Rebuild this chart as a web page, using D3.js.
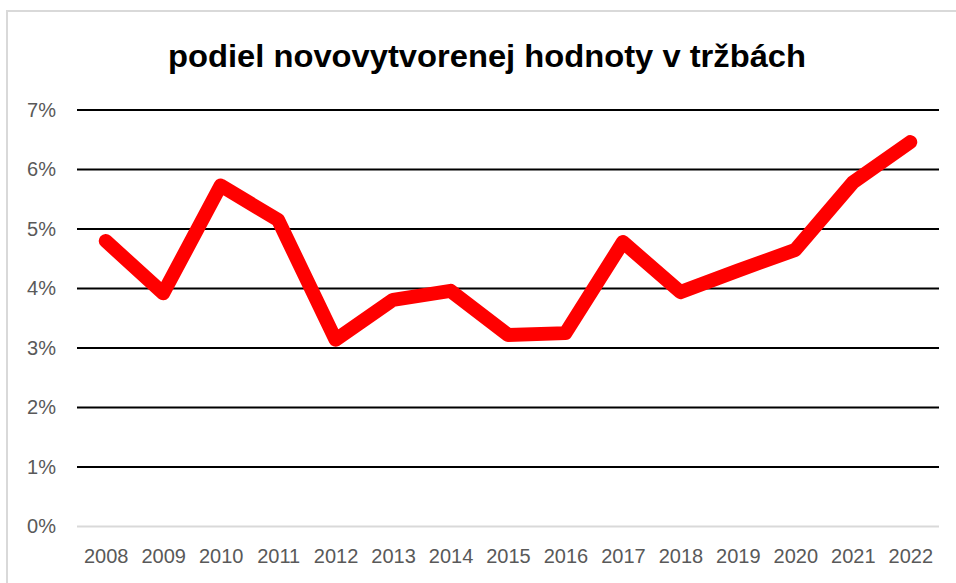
<!DOCTYPE html>
<html>
<head>
<meta charset="utf-8">
<script src="https://cdn.jsdelivr.net/npm/d3@7"></script>
<style>
  html, body { margin: 0; padding: 0; background: #fff; }
  svg { display: block; }
</style>
</head>
<body>
<svg id="chart" width="956" height="583"></svg>
<script>
// Share of newly created value in revenue, 2008–2022
const years = ["2008","2009","2010","2011","2012","2013","2014","2015","2016","2017","2018","2019","2020","2021","2022"];
const shares = [0.0480, 0.0392, 0.0573, 0.0515, 0.0314, 0.0381, 0.0396, 0.0322, 0.0325, 0.0478, 0.0394, 0.0430, 0.0465, 0.0578, 0.0646];
const yTicks = [0, 0.01, 0.02, 0.03, 0.04, 0.05, 0.06, 0.07];
const titleText = "podiel novovytvorenej hodnoty v tržbách";

const svg = d3.select("#chart");
const W = 956, H = 583;
const plot = { left: 77, right: 939, top: 110, bottom: 526.5 };

// chart area frame (light grey, open to the right/bottom of the page)
svg.append("rect")
  .attr("x", 7).attr("y", 11)
  .attr("width", W).attr("height", H)
  .attr("fill", "#fff")
  .attr("stroke", "#d9d9d9")
  .attr("stroke-width", 2);

const x = d3.scalePoint().domain(years).range([plot.left, plot.right]).padding(0.5);
const y = d3.scaleLinear().domain([0, 0.07]).range([plot.bottom, plot.top]);

// horizontal gridlines
const grid = svg.append("g");
grid.selectAll("line").data(yTicks).join("line")
  .attr("x1", plot.left).attr("x2", plot.right)
  .attr("y1", d => y(d)).attr("y2", d => y(d))
  .attr("stroke", d => d === 0 ? "#d9d9d9" : "#000")
  .attr("stroke-width", 2);

// y axis labels
const yAxis = svg.append("g")
  .attr("transform", `translate(${plot.left - 21},0)`)
  .call(d3.axisLeft(y).tickValues(yTicks).tickFormat(d3.format(".0%")).tickSize(0).tickPadding(0));
yAxis.select(".domain").remove();
yAxis.selectAll("text")
  .attr("font-family", "'Liberation Sans', Arial, sans-serif")
  .attr("font-size", 20)
  .attr("fill", "#595959");

// x axis labels
const xAxis = svg.append("g")
  .attr("transform", `translate(0,${plot.bottom + 16})`)
  .call(d3.axisBottom(x).tickSize(0).tickPadding(6));
xAxis.select(".domain").remove();
xAxis.selectAll("text")
  .attr("font-family", "'Liberation Sans', Arial, sans-serif")
  .attr("font-size", 20)
  .attr("fill", "#595959");

// data line
const line = d3.line()
  .x((d, i) => x(years[i]))
  .y(d => y(d));
svg.append("path")
  .datum(shares)
  .attr("d", line)
  .attr("fill", "none")
  .attr("stroke", "#ff0000")
  .attr("stroke-width", 14)
  .attr("stroke-linejoin", "round")
  .attr("stroke-linecap", "round");

// title
svg.append("text")
  .attr("x", 168).attr("y", 67)
  .attr("font-family", "'Liberation Sans', Arial, sans-serif")
  .attr("font-weight", "bold")
  .attr("font-size", 32)
  .attr("fill", "#000")
  .attr("textLength", 638)
  .attr("lengthAdjust", "spacingAndGlyphs")
  .text(titleText);
</script>
</body>
</html>
